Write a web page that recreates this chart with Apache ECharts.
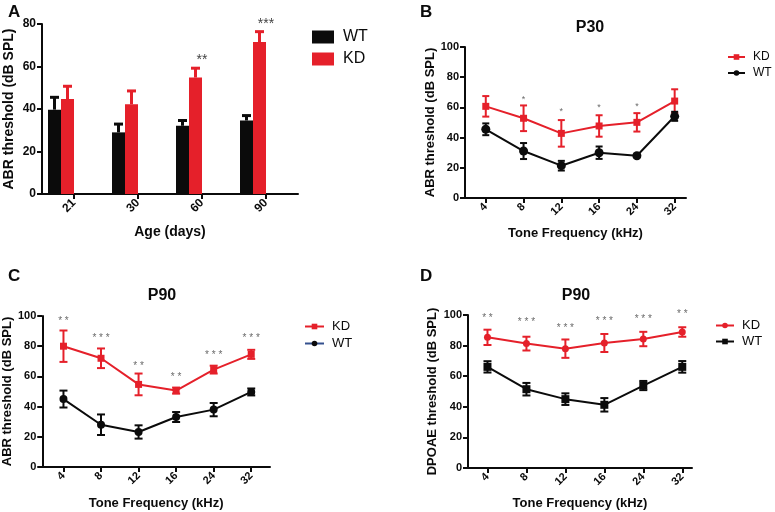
<!DOCTYPE html>
<html>
<head>
<meta charset="utf-8">
<script src="https://cdn.jsdelivr.net/npm/echarts@6/dist/echarts.min.js"></script>
<style>html,body{margin:0;padding:0;background:#fff}#c{width:775px;height:512px}</style>
</head>
<body>
<div id="c"></div>
<script>
// ---------- DATA ----------
// Panel A: ABR threshold by age
var ageLabels = ['21', '30', '60', '90'];
var wtAgeMean = [39.7, 29.0, 32.1, 34.6];
var wtAgeErr  = [5.8, 3.9, 2.5, 2.3];
var kdAgeMean = [44.7, 42.2, 54.8, 71.5];
var kdAgeErr  = [6.0, 6.3, 4.4, 4.9];
var ageStars  = ['', '', '**', '***'];
var ageStarY  = [null, null, 63, 80];

// Frequencies (shared by B, C, D)
var freqLabels = ['4', '8', '12', '16', '24', '32'];

// Panel B: P30 ABR
var kdP30Mean = [60.7, 52.8, 42.8, 47.7, 50.1, 64.2];
var kdP30Err  = [6.8, 8.5, 8.8, 7.1, 6.1, 7.8];
var wtP30Mean = [45.5, 31.1, 21.4, 30.0, 28.0, 54.1];
var wtP30Err  = [3.9, 5.3, 3.2, 4.1, 1.0, 3.0];
var p30Stars  = ['', '*', '*', '*', '*', ''];
var p30StarY  = [null, 65.5, 57.2, 60.2, 60.6, null];

// Panel C: P90 ABR
var kdP90Mean = [80.0, 72.0, 54.7, 50.6, 64.5, 74.6];
var kdP90Err  = [10.4, 6.5, 7.2, 2.0, 2.6, 3.0];
var wtP90Mean = [45.0, 28.0, 23.2, 33.1, 38.0, 49.7];
var wtP90Err  = [5.6, 6.8, 4.4, 3.3, 4.4, 2.3];
var p90Stars  = ['* *', '* * *', '* *', '* *', '* * *', '* * *'];
var p90StarY  = [96.6, 85.1, 66.7, 59.2, 74.0, 85.1];

// Panel D: P90 DPOAE
var kdDpMean = [85.4, 81.3, 78.0, 81.7, 84.3, 88.9];
var kdDpErr  = [5.0, 4.5, 6.0, 5.9, 4.7, 3.1];
var wtDpMean = [66.1, 51.5, 45.0, 41.3, 53.9, 66.1];
var wtDpErr  = [3.7, 4.1, 3.8, 4.4, 3.0, 3.8];
var dpStars   = ['* *', '* * *', '* * *', '* * *', '* * *', '* *'];
var dpStarY   = [97.6, 95.0, 91.3, 95.8, 96.9, 100.5];

// ---------- STYLE ----------
var RED = '#e5202a', BLK = '#0b0b0b';
var FONT = '"Liberation Sans", Arial, Helvetica, sans-serif';

function xyPairs(arr) { return arr.map(function (v, i) { return [i, v]; }); }
function errPairs(mean, err) { return mean.map(function (v, i) { return [i, v - err[i], v + err[i]]; }); }
function starPairs(ys, labels) {
  var out = [];
  ys.forEach(function (v, i) { if (v !== null) out.push({ value: [i, v], lab: labels[i] }); });
  return out;
}

function errorSeries(idx, name, mean, err, color, capHalf) {
  return {
    type: 'custom', name: name, xAxisIndex: idx, yAxisIndex: idx, z: 4, silent: true,
    data: errPairs(mean, err),
    renderItem: function (params, api) {
      var lo = api.coord([api.value(0), api.value(1)]);
      var hi = api.coord([api.value(0), api.value(2)]);
      var st = { stroke: color, lineWidth: 2 };
      return { type: 'group', children: [
        { type: 'line', shape: { x1: lo[0], y1: lo[1], x2: hi[0], y2: hi[1] }, style: st },
        { type: 'line', shape: { x1: lo[0] - capHalf, y1: lo[1], x2: lo[0] + capHalf, y2: lo[1] }, style: st },
        { type: 'line', shape: { x1: hi[0] - capHalf, y1: hi[1], x2: hi[0] + capHalf, y2: hi[1] }, style: st }
      ]};
    }
  };
}

function barErrSeries(name, mean, err, color, dx) {
  return {
    type: 'custom', name: name, xAxisIndex: 0, yAxisIndex: 0, z: 4, silent: true,
    data: mean.map(function (v, i) { return [i, v, v + err[i]]; }),
    renderItem: function (params, api) {
      var m = api.coord([api.value(0), api.value(1)]);
      var t = api.coord([api.value(0), api.value(2)]);
      var x = m[0] + dx;
      var st = { stroke: color, lineWidth: 3 };
      return { type: 'group', children: [
        { type: 'line', shape: { x1: x, y1: m[1], x2: x, y2: t[1] }, style: st },
        { type: 'line', shape: { x1: x - 4.5, y1: t[1], x2: x + 4.5, y2: t[1] }, style: st }
      ]};
    }
  };
}

function lineSeries(idx, name, mean, color, symbol, size) {
  return {
    type: 'line', name: name, xAxisIndex: idx, yAxisIndex: idx, z: 5,
    data: xyPairs(mean), symbol: symbol, symbolSize: size, showSymbol: true,
    lineStyle: { color: color, width: 2 }, itemStyle: { color: color }, silent: true
  };
}

function starSeries(idx, ys, labels, fs, color, bold) {
  return {
    type: 'scatter', xAxisIndex: idx, yAxisIndex: idx, symbolSize: 0, clip: false, silent: true, z: 6,
    data: starPairs(ys, labels),
    label: { show: true, position: 'inside', formatter: function (p) { return p.data.lab; },
      fontSize: fs, color: color, fontWeight: bold ? 'bold' : 'normal', fontFamily: FONT }
  };
}

function valueY(idx, max, name, nameGap, fs, nfs) {
  return {
    type: 'value', gridIndex: idx, min: 0, max: max, interval: 20,
    name: name, nameLocation: 'middle', nameGap: nameGap,
    nameTextStyle: { fontSize: nfs, fontWeight: 'bold', color: BLK, fontFamily: FONT },
    axisLine: { show: true, onZero: false, lineStyle: { color: BLK, width: 2 } },
    axisTick: { show: true, length: 5, lineStyle: { color: BLK, width: 2 } },
    axisLabel: { fontSize: fs, fontWeight: 'bold', color: BLK, fontFamily: FONT, margin: 6 },
    splitLine: { show: false }
  };
}

function freqX(idx, min, max, nameGap) {
  var ticks = freqLabels.map(function (f, i) { return i; });
  return {
    type: 'value', gridIndex: idx, min: min, max: max,
    name: 'Tone Frequency (kHz)', nameLocation: 'middle', nameGap: nameGap,
    nameTextStyle: { fontSize: 13, fontWeight: 'bold', color: BLK, fontFamily: FONT },
    axisLine: { show: true, onZero: false, lineStyle: { color: BLK, width: 2 } },
    axisTick: { show: true, length: 5, customValues: ticks, lineStyle: { color: BLK, width: 2 } },
    axisLabel: { customValues: ticks, rotate: 45, margin: 7, fontSize: 11, fontWeight: 'bold', color: BLK, fontFamily: FONT,
      formatter: function (v) { return freqLabels[Math.round(v)]; } },
    splitLine: { show: false }
  };
}

function nameFmt(n) { return n.split('|')[0]; }

var option = {
  animation: false,
  backgroundColor: '#fff',
  textStyle: { fontFamily: FONT },
  title: [
    { text: 'A', left: 3, top: -1, textStyle: { fontSize: 17, fontWeight: 'bold', color: BLK, fontFamily: FONT } },
    { text: 'B', left: 415, top: -1, textStyle: { fontSize: 17, fontWeight: 'bold', color: BLK, fontFamily: FONT } },
    { text: 'C', left: 3, top: 263, textStyle: { fontSize: 17, fontWeight: 'bold', color: BLK, fontFamily: FONT } },
    { text: 'D', left: 415, top: 263, textStyle: { fontSize: 17, fontWeight: 'bold', color: BLK, fontFamily: FONT } },
    { text: 'P30', left: 585, top: 15, textAlign: 'center', textStyle: { fontSize: 16, fontWeight: 'bold', color: BLK, fontFamily: FONT } },
    { text: 'P90', left: 157, top: 283, textAlign: 'center', textStyle: { fontSize: 16, fontWeight: 'bold', color: BLK, fontFamily: FONT } },
    { text: 'P90', left: 571, top: 283, textAlign: 'center', textStyle: { fontSize: 16, fontWeight: 'bold', color: BLK, fontFamily: FONT } }
  ],
  legend: [
    { data: ['WT|A', 'KD|A'], formatter: nameFmt, orient: 'vertical', left: 312, top: 29, padding: 0, icon: 'rect',
      itemWidth: 22, itemHeight: 13, itemGap: 6,
      textStyle: { fontSize: 16, color: BLK, fontFamily: FONT, padding: [0, 0, 0, 4] } },
    { data: ['KD|B', 'WT|B'], formatter: nameFmt, orient: 'vertical', left: 727, top: 51, padding: 0,
      itemWidth: 17, itemHeight: 7, itemGap: 4,
      textStyle: { fontSize: 12, color: BLK, fontFamily: FONT, padding: [0, 0, 0, 3] } },
    { data: ['KD|C', { name: 'WT|C', lineStyle: { color: '#34508e' } }], formatter: nameFmt, orient: 'vertical', left: 304, top: 320, padding: 0,
      itemWidth: 19, itemHeight: 7, itemGap: 4,
      textStyle: { fontSize: 13, color: BLK, fontFamily: FONT, padding: [0, 0, 0, 3] } },
    { data: ['KD|D', 'WT|D'], formatter: nameFmt, orient: 'vertical', left: 715, top: 319, padding: 0,
      itemWidth: 18, itemHeight: 7, itemGap: 3,
      textStyle: { fontSize: 13, color: BLK, fontFamily: FONT, padding: [0, 0, 0, 3] } }
  ],
  grid: [
    { left: 42, top: 24, width: 256, height: 170 },
    { left: 465, top: 47, width: 221, height: 151 },
    { left: 41, top: 316, width: 229, height: 151 },
    { left: 468, top: 315, width: 224, height: 153 }
  ],
  xAxis: [
    { type: 'category', gridIndex: 0, data: ageLabels, boundaryGap: true,
      name: 'Age (days)', nameLocation: 'middle', nameGap: 31,
      nameTextStyle: { fontSize: 14, fontWeight: 'bold', color: BLK, fontFamily: FONT },
      axisLine: { show: true, lineStyle: { color: BLK, width: 2 } },
      axisTick: { show: true, alignWithLabel: true, length: 5, lineStyle: { color: BLK, width: 2 } },
      axisLabel: { rotate: 45, margin: 7, fontSize: 12, fontWeight: 'bold', color: BLK, fontFamily: FONT },
      splitLine: { show: false } },
    freqX(1, -0.55, 5.3, 29),
    freqX(2, -0.565, 5.5, 30),
    freqX(3, -0.5, 5.25, 29)
  ],
  yAxis: [
    valueY(0, 80, 'ABR threshold (dB SPL)', 26, 12, 14),
    valueY(1, 100, 'ABR threshold (dB SPL)', 27, 11, 13),
    valueY(2, 100, 'ABR threshold (dB SPL)', 27, 11, 13),
    valueY(3, 100, 'DPOAE threshold (dB SPL)', 29, 11, 13)
  ],
  series: [
    // Panel A bars
    { type: 'bar', name: 'WT|A', xAxisIndex: 0, yAxisIndex: 0, data: wtAgeMean, barWidth: 13, barGap: '0%',
      itemStyle: { color: BLK }, silent: true },
    { type: 'bar', name: 'KD|A', xAxisIndex: 0, yAxisIndex: 0, data: kdAgeMean, barWidth: 13, barGap: '0%',
      itemStyle: { color: RED }, silent: true },
    { type: 'bar', name: 'gap1', xAxisIndex: 0, yAxisIndex: 0, data: ['-', '-', '-', '-'], barWidth: 13, barGap: '0%', silent: true },
    { type: 'bar', name: 'gap2', xAxisIndex: 0, yAxisIndex: 0, data: ['-', '-', '-', '-'], barWidth: 13, barGap: '0%', silent: true },
    barErrSeries('errWT_A', wtAgeMean, wtAgeErr, BLK, -19.5),
    barErrSeries('errKD_A', kdAgeMean, kdAgeErr, RED, -6.5),
    starSeries(0, ageStarY, ageStars, 14, BLK, false),

    // Panel B
    errorSeries(1, 'errKD_B', kdP30Mean, kdP30Err, RED, 3.5),
    errorSeries(1, 'errWT_B', wtP30Mean, wtP30Err, BLK, 3.5),
    lineSeries(1, 'KD|B', kdP30Mean, RED, 'rect', 7),
    lineSeries(1, 'WT|B', wtP30Mean, BLK, 'circle', 9),
    starSeries(1, p30StarY, p30Stars, 9, '#444', false),

    // Panel C
    errorSeries(2, 'errKD_C', kdP90Mean, kdP90Err, RED, 4),
    errorSeries(2, 'errWT_C', wtP90Mean, wtP90Err, BLK, 4),
    lineSeries(2, 'KD|C', kdP90Mean, RED, 'rect', 7),
    lineSeries(2, 'WT|C', wtP90Mean, BLK, 'circle', 8),
    starSeries(2, p90StarY, p90Stars, 10, '#444', false),

    // Panel D
    errorSeries(3, 'errKD_D', kdDpMean, kdDpErr, RED, 4),
    errorSeries(3, 'errWT_D', wtDpMean, wtDpErr, BLK, 4),
    lineSeries(3, 'KD|D', kdDpMean, RED, 'circle', 7),
    lineSeries(3, 'WT|D', wtDpMean, BLK, 'rect', 8),
    starSeries(3, dpStarY, dpStars, 10, '#444', false)
  ]
};

var chart = echarts.init(document.getElementById('c'), null, { renderer: 'canvas' });
chart.setOption(option);
</script>
</body>
</html>
